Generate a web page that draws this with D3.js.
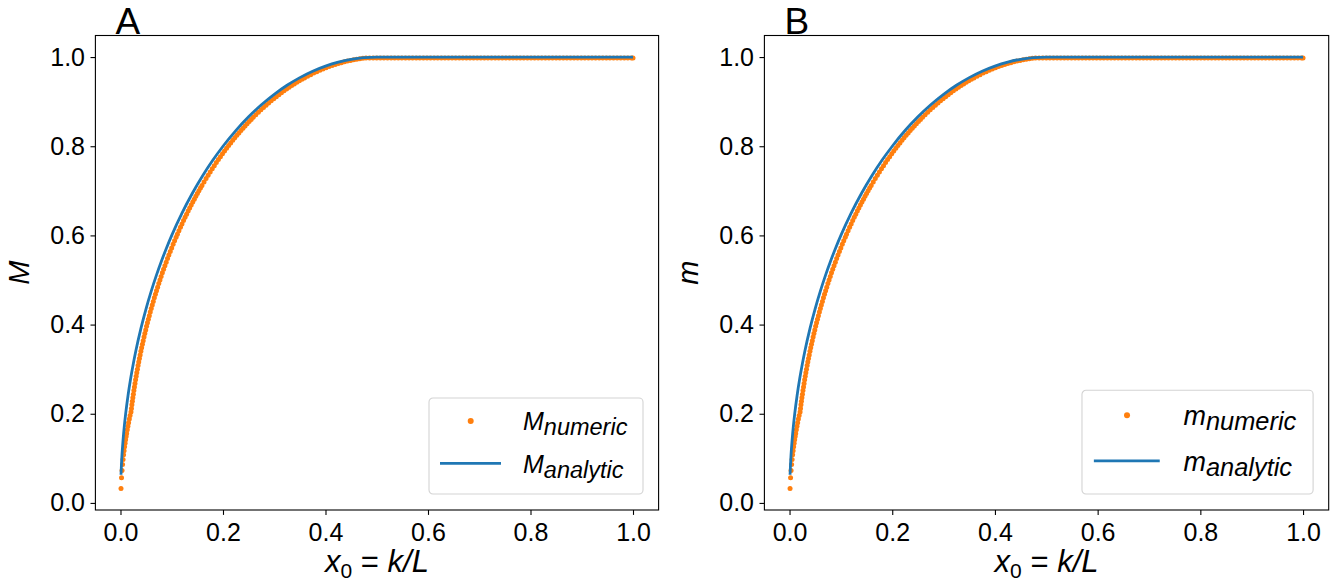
<!DOCTYPE html>
<html>
<head>
<meta charset="utf-8">
<script src="https://cdn.jsdelivr.net/npm/d3@7"></script>
<style>
  html, body { margin: 0; padding: 0; background: #fff; }
  svg { display: block; }
  text { font-family: "Liberation Sans", Arial, Helvetica, sans-serif; fill: #000; white-space: pre; }
</style>
</head>
<body>
<svg id="fig" width="1340" height="585"></svg>
<script>
// ---- data -------------------------------------------------------------
const xTicks = [0.0, 0.2, 0.4, 0.6, 0.8, 1.0];
const yTicks = [0.0, 0.2, 0.4, 0.6, 0.8, 1.0];

const panelLetters = ["A", "B"];
const panelSymbols = ["M", "m"];

// closed-form curve, x0 = k/L
const analyticX = [0.001, 0.002, 0.003, 0.005, 0.0075, 0.01, 0.015, 0.02, 0.025, 0.03,
  0.04, 0.05, 0.06, 0.07, 0.08, 0.09, 0.10, 0.12, 0.14, 0.16, 0.18, 0.20, 0.225, 0.25,
  0.275, 0.30, 0.325, 0.35, 0.375, 0.40, 0.425, 0.45, 0.475, 0.50, 0.60, 0.70, 0.80, 0.90, 1.00];
const analyticY = [0.0632, 0.0894, 0.1094, 0.1411, 0.1726, 0.1990, 0.2431, 0.2800, 0.3123, 0.3412,
  0.3919, 0.4359, 0.4750, 0.5103, 0.5426, 0.5724, 0.6000, 0.6499, 0.6940, 0.7332, 0.7684, 0.8000, 0.8352, 0.8660,
  0.8930, 0.9165, 0.9368, 0.9539, 0.9683, 0.9798, 0.9887, 0.9950, 0.9988, 1.0000, 1.0000, 1.0000, 1.0000, 1.0000, 1.0000];

// numerical solution: rising part
const numericX = [
  0.001, 0.002, 0.003, 0.004, 0.005, 0.006, 0.007, 0.008, 0.009, 0.010, 0.011, 0.012,
  0.01322, 0.01449, 0.01583, 0.01722, 0.01868,
  0.02051, 0.02137, 0.02225, 0.02317, 0.02412, 0.02511, 0.02614, 0.02720, 0.02829, 0.02942,
  0.03059, 0.03179, 0.03303, 0.03431, 0.03562, 0.03697, 0.03836, 0.03979, 0.04125, 0.04276,
  0.04430, 0.04588, 0.04751, 0.04917, 0.05087, 0.05262, 0.05441, 0.05624, 0.05811, 0.06003,
  0.06199, 0.06399, 0.06604, 0.06814, 0.07028, 0.07247, 0.07470, 0.07699, 0.07932, 0.08171,
  0.08414, 0.08663, 0.08917, 0.09176, 0.09441, 0.09711, 0.09987, 0.10269, 0.10557, 0.10851,
  0.111, 0.114, 0.117, 0.120, 0.123, 0.126, 0.129, 0.132, 0.135, 0.138, 0.141, 0.144, 0.147, 0.150, 0.153, 0.156, 0.159,
  0.163, 0.167, 0.171, 0.175, 0.179, 0.183, 0.187, 0.191, 0.195, 0.199, 0.203, 0.207, 0.211,
  0.215, 0.219, 0.223, 0.227, 0.231, 0.235, 0.239, 0.243, 0.247, 0.251, 0.255, 0.259,
  0.264, 0.269, 0.274, 0.279, 0.284, 0.289, 0.294, 0.299, 0.304, 0.309,
  0.314, 0.319, 0.324, 0.329, 0.334, 0.339, 0.344, 0.349, 0.354, 0.359,
  0.365, 0.371, 0.377, 0.383, 0.389, 0.395, 0.401, 0.407, 0.413, 0.419,
  0.425, 0.431, 0.437, 0.443, 0.449, 0.455, 0.461, 0.467, 0.473, 0.479
];
const numericY = [
  0.0325, 0.0563, 0.0727, 0.0860, 0.0975, 0.1078, 0.1172, 0.1259, 0.1340, 0.1416, 0.1489, 0.1558,
  0.164, 0.172, 0.180, 0.188, 0.196,
  0.204, 0.212, 0.220, 0.228, 0.236, 0.244, 0.252, 0.260, 0.268, 0.276,
  0.284, 0.292, 0.300, 0.308, 0.316, 0.324, 0.332, 0.340, 0.348, 0.356,
  0.364, 0.372, 0.380, 0.388, 0.396, 0.404, 0.412, 0.420, 0.428, 0.436,
  0.444, 0.452, 0.460, 0.468, 0.476, 0.484, 0.492, 0.500, 0.508, 0.516,
  0.524, 0.532, 0.540, 0.548, 0.556, 0.564, 0.572, 0.580, 0.588, 0.596,
  0.6027, 0.6105, 0.6182, 0.6258, 0.6332, 0.6405, 0.6476, 0.6546, 0.6614, 0.6682, 0.6748, 0.6813, 0.6877, 0.6940, 0.7002, 0.7062, 0.7122,
  0.7200, 0.7276, 0.7351, 0.7424, 0.7495, 0.7565, 0.7633, 0.7700, 0.7766, 0.7830, 0.7893, 0.7955, 0.8015,
  0.8074, 0.8132, 0.8189, 0.8244, 0.8298, 0.8352, 0.8404, 0.8455, 0.8505, 0.8554, 0.8602, 0.8649,
  0.8706, 0.8762, 0.8816, 0.8869, 0.8920, 0.8970, 0.9019, 0.9066, 0.9112, 0.9156,
  0.9200, 0.9242, 0.9282, 0.9322, 0.9360, 0.9397, 0.9433, 0.9467, 0.9501, 0.9533,
  0.9570, 0.9606, 0.9640, 0.9672, 0.9703, 0.9732, 0.9760, 0.9786, 0.9810, 0.9833,
  0.9854, 0.9874, 0.9893, 0.9910, 0.9925, 0.9939, 0.9952, 0.9963, 0.9973, 0.9980
];

// numerical solution: saturated part
const plateauX = [
  0.486, 0.493, 0.500, 0.507, 0.514, 0.521, 0.528, 0.535, 0.542, 0.549,
  0.556, 0.563, 0.570, 0.577, 0.584, 0.591, 0.598, 0.605, 0.612, 0.619,
  0.626, 0.633, 0.640, 0.647, 0.654, 0.661, 0.668, 0.675, 0.682, 0.689,
  0.696, 0.703, 0.710, 0.717, 0.724, 0.731, 0.738, 0.745, 0.752, 0.759,
  0.766, 0.773, 0.780, 0.787, 0.794, 0.801, 0.808, 0.815, 0.822, 0.829,
  0.836, 0.843, 0.850, 0.857, 0.864, 0.871, 0.878, 0.885, 0.892, 0.899,
  0.906, 0.913, 0.920, 0.927, 0.934, 0.941, 0.948, 0.955, 0.962, 0.969,
  0.976, 0.983, 0.990, 0.997, 1.000
];
const plateauY = [
  0.998, 0.998, 0.998, 0.998, 0.998, 0.998, 0.998, 0.998, 0.998, 0.998,
  0.998, 0.998, 0.998, 0.998, 0.998, 0.998, 0.998, 0.998, 0.998, 0.998,
  0.998, 0.998, 0.998, 0.998, 0.998, 0.998, 0.998, 0.998, 0.998, 0.998,
  0.998, 0.998, 0.998, 0.998, 0.998, 0.998, 0.998, 0.998, 0.998, 0.998,
  0.998, 0.998, 0.998, 0.998, 0.998, 0.998, 0.998, 0.998, 0.998, 0.998,
  0.998, 0.998, 0.998, 0.998, 0.998, 0.998, 0.998, 0.998, 0.998, 0.998,
  0.998, 0.998, 0.998, 0.998, 0.998, 0.998, 0.998, 0.998, 0.998, 0.998,
  0.998, 0.998, 0.998, 0.998, 0.998
];

// ---- style / layout -----------------------------------------------------
const BLUE = "#1f77b4", ORANGE = "#ff7f0e";
const TOP = 35.5, BOTTOM = 510;
const frames = [{ left: 95.4, right: 658.6 }, { left: 764.4, right: 1328.7 }];
const legendFont = [25, 27];
const TICK = 4.9, TICK_FONT = 25;

const numericPts = d3.zip(numericX, numericY).concat(d3.zip(plateauX, plateauY));
const analyticPts = d3.zip(analyticX, analyticY);

// axis limits with a 5% margin around all the data
const allX = numericPts.map(d => d[0]).concat(analyticX);
const allY = numericPts.map(d => d[1]).concat(analyticY);
const [x0, x1] = d3.extent(allX), [y0, y1] = d3.extent(allY);
const xDom = [x0 - 0.05 * (x1 - x0), x1 + 0.05 * (x1 - x0)];
const yDom = [y0 - 0.05 * (y1 - y0), y1 + 0.05 * (y1 - y0)];

const svg = d3.select("#fig");
const defs = svg.append("defs");

function mathText(sel, base, sub, size) {
  const t = sel.append("text").attr("font-style", "italic").attr("font-size", size);
  t.append("tspan").text(base);
  t.append("tspan").attr("dy", size * 0.2).attr("font-size", size * 0.94).text(sub);
  return t;
}

frames.forEach((f, i) => {
  const sym = panelSymbols[i];
  const x = d3.scaleLinear().domain(xDom).range([f.left, f.right]);
  const y = d3.scaleLinear().domain(yDom).range([BOTTOM, TOP]);
  const g = svg.append("g");

  defs.append("clipPath").attr("id", "clip" + i)
    .append("rect").attr("x", f.left).attr("y", TOP)
    .attr("width", f.right - f.left).attr("height", BOTTOM - TOP);

  const plot = g.append("g").attr("clip-path", `url(#clip${i})`);

  // numeric samples
  plot.append("g").selectAll("circle").data(numericPts).join("circle")
    .attr("cx", d => x(d[0])).attr("cy", d => y(d[1])).attr("r", 2.5)
    .attr("fill", ORANGE);

  // analytic curve
  plot.append("path").datum(analyticPts)
    .attr("d", d3.line().x(d => x(d[0])).y(d => y(d[1])).curve(d3.curveMonotoneX))
    .attr("fill", "none").attr("stroke", BLUE).attr("stroke-width", 2.8)
    .attr("stroke-linejoin", "round");

  // axes
  const ax = g.append("g").attr("transform", `translate(0,${BOTTOM})`)
    .call(d3.axisBottom(x).tickValues(xTicks).tickFormat(d3.format(".1f"))
      .tickSize(TICK).tickSizeOuter(0).tickPadding(8.3));
  const ay = g.append("g").attr("transform", `translate(${f.left},0)`)
    .call(d3.axisLeft(y).tickValues(yTicks).tickFormat(d3.format(".1f"))
      .tickSize(TICK).tickSizeOuter(0).tickPadding(5.5));
  [ax, ay].forEach(a => {
    a.select(".domain").remove();
    a.selectAll(".tick line").attr("stroke", "#000").attr("stroke-width", 1.1);
    a.selectAll(".tick text").attr("font-size", TICK_FONT)
      .attr("font-family", '"Liberation Sans", Arial, sans-serif').attr("fill", "#000");
  });

  // frame
  g.append("rect").attr("x", f.left).attr("y", TOP)
    .attr("width", f.right - f.left).attr("height", BOTTOM - TOP)
    .attr("fill", "none").attr("stroke", "#000").attr("stroke-width", 1.1);

  // panel letter
  g.append("text").attr("x", f.left + 20).attr("y", 34).attr("font-size", 37).text(panelLetters[i]);

  // axis titles
  const cx = (f.left + f.right) / 2;
  const xl = g.append("text").attr("x", cx).attr("y", 572)
    .attr("text-anchor", "middle").attr("font-size", 31);
  xl.append("tspan").attr("font-style", "italic").text("x");
  xl.append("tspan").attr("font-size", 21).attr("dy", 6).text("0");
  xl.append("tspan").attr("dy", -6).text(" = ");
  xl.append("tspan").attr("font-style", "italic").text("k/L");

  g.append("text")
    .attr("transform", `translate(${f.left - 66},${(TOP + BOTTOM) / 2}) rotate(-90)`)
    .attr("text-anchor", "middle").attr("font-style", "italic").attr("font-size", 29)
    .text(sym);

  // legend
  const fs = legendFont[i];
  const s = fs / 25;
  const lw = 214 * s, lh = 96 * s;
  const lx = f.right - 15.6 - lw, ly = BOTTOM - 16 - lh;
  const lg = g.append("g").attr("transform", `translate(${lx},${ly})`);
  lg.append("rect").attr("width", lw).attr("height", lh).attr("rx", 4)
    .attr("fill", "#fff").attr("fill-opacity", 0.8)
    .attr("stroke", "#d3d3d3").attr("stroke-width", 1.1);
  lg.append("circle").attr("cx", 41.7 * s).attr("cy", 23 * s).attr("r", 3).attr("fill", ORANGE);
  lg.append("line").attr("x1", 11 * s).attr("x2", 72 * s).attr("y1", 65.3 * s).attr("y2", 65.3 * s)
    .attr("stroke", BLUE).attr("stroke-width", 2.8);
  mathText(lg, sym, "numeric", fs).attr("x", 94 * s).attr("y", 32 * s);
  mathText(lg, sym, "analytic", fs).attr("x", 94 * s).attr("y", 74.7 * s);
});
</script>
</body>
</html>
